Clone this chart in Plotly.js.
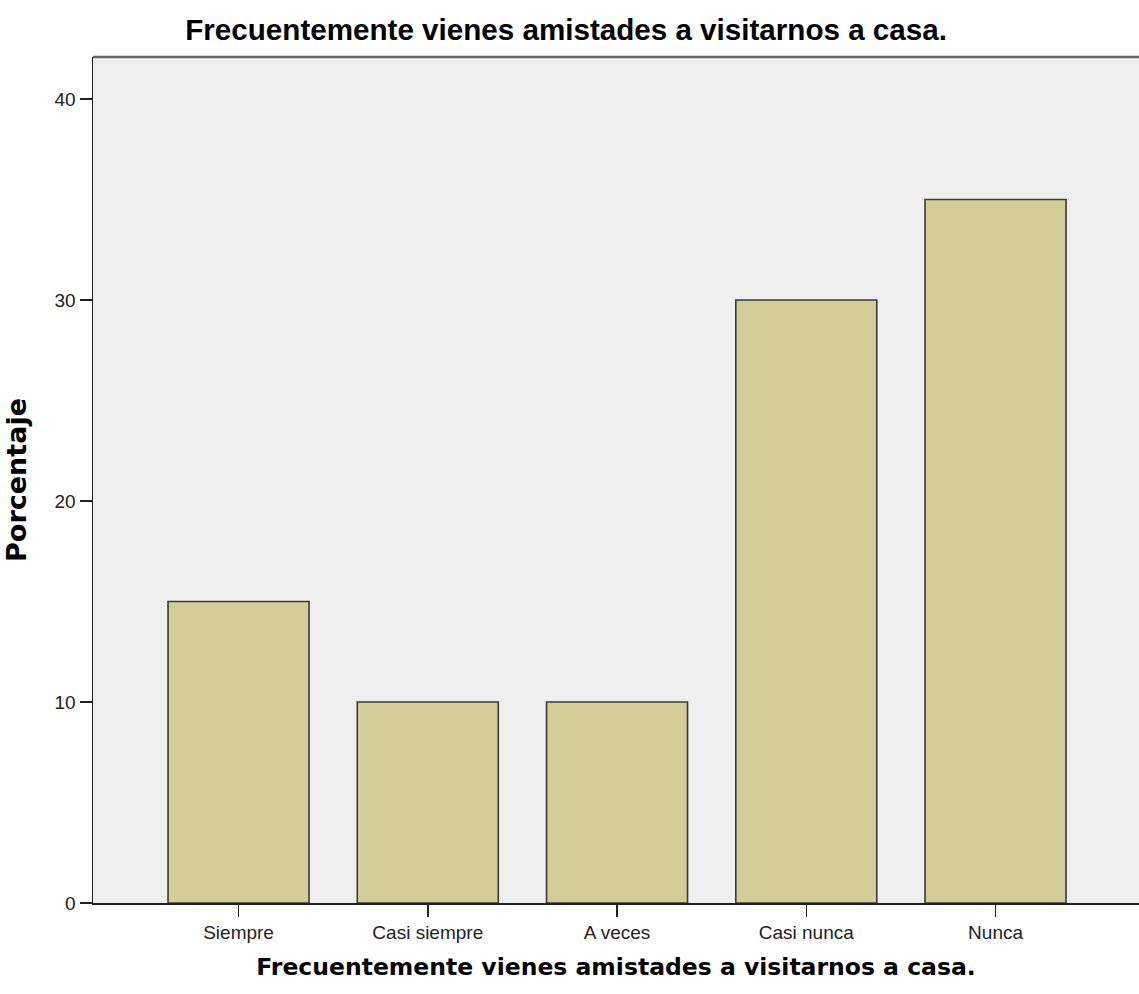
<!DOCTYPE html>
<html>
<head>
<meta charset="utf-8">
<script src="https://cdn.plot.ly/plotly-3.0.1.min.js"></script>
<style>
html,body{margin:0;padding:0;background:#fff;}
#chart{width:1139px;height:994px;}
</style>
</head>
<body>
<div id="chart"></div>
<script>
const categories = ["Siempre", "Casi siempre", "A veces", "Casi nunca", "Nunca"];
const percentages = [15, 10, 10, 30, 35];
const yTickValues = [0, 10, 20, 30, 40];
const chartTitle = "Frecuentemente vienes amistades a visitarnos a casa.";
const xTitle = "Frecuentemente vienes amistades a visitarnos a casa.";
const yTitle = "Porcentaje";

const trace = {
  type: "bar",
  x: categories,
  y: percentages,
  width: 0.745,
  marker: {color: "#d3ce97", line: {color: "#3a3a3a", width: 1.6}},
  hoverinfo: "x+y"
};

const layout = {
  width: 1139,
  height: 994,
  margin: {l: 93, r: 0, t: 57, b: 91},
  paper_bgcolor: "#ffffff",
  plot_bgcolor: "#efefef",
  showlegend: false,
  title: {
    text: chartTitle,
    x: 0.497, xanchor: "center",
    y: 0.970, yanchor: "middle",
    font: {family: "Liberation Sans, Arial, sans-serif", size: 29.6, color: "#000", weight: "bold"}
  },
  xaxis: {
    type: "category",
    range: [-0.769, 4.758],
    showgrid: false,
    zeroline: false,
    showline: true,
    linecolor: "#222",
    linewidth: 1.5,
    ticks: "outside",
    ticklen: 12,
    tickwidth: 1.5,
    tickcolor: "#222",
    tickfont: {family: "Liberation Sans, Arial, sans-serif", size: 19, color: "#222"},
    title: {
      text: xTitle,
      standoff: 16,
      font: {family: "DejaVu Sans, sans-serif", size: 23.5, color: "#000", weight: "bold"}
    },
    fixedrange: true
  },
  yaxis: {
    range: [0, 42.09],
    tickvals: yTickValues,
    showgrid: false,
    zeroline: false,
    showline: true,
    linecolor: "#222",
    linewidth: 1.5,
    ticks: "outside",
    ticklen: 12,
    tickwidth: 1.5,
    tickcolor: "#222",
    tickfont: {family: "Liberation Sans, Arial, sans-serif", size: 19, color: "#222"},
    title: {
      text: yTitle,
      standoff: 20,
      font: {family: "DejaVu Sans, sans-serif", size: 27, color: "#000", weight: "bold"}
    },
    fixedrange: true
  },
  shapes: [{
    type: "line", xref: "paper", yref: "paper",
    x0: 0, x1: 1, y0: 1, y1: 1,
    line: {color: "#666", width: 2.5}
  }]
};

Plotly.newPlot("chart", [trace], layout, {displayModeBar: false, staticPlot: true});
</script>
</body>
</html>
